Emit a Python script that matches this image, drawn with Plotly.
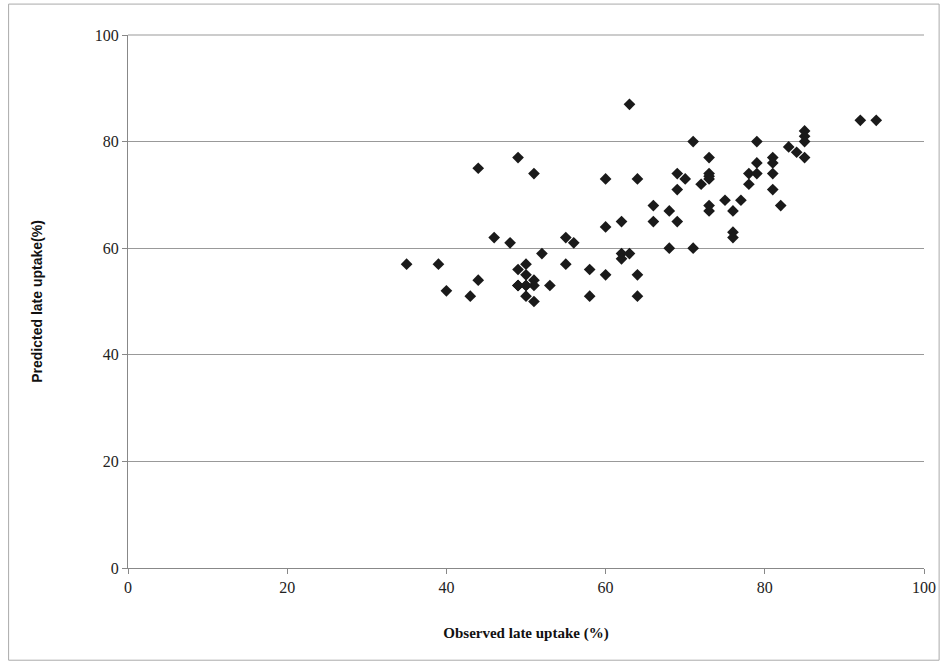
import plotly.graph_objects as go

observed = [35, 39, 40, 43, 44, 44, 46, 48, 49, 49, 49, 50, 50, 50, 50, 51, 51, 51, 51, 52,
            53, 55, 55, 56, 58, 58, 60, 60, 60, 62, 62, 62, 63, 63, 64, 64, 64, 66, 66, 68,
            69, 69, 69, 68, 70, 71, 71, 72, 73, 73, 73, 73, 73, 73, 75, 76, 76, 76, 77, 78,
            78, 79, 79, 79, 81, 81, 81, 81, 82, 83, 84, 85, 85, 85, 85, 92, 94, 49, 49, 50]
predicted = [57, 57, 52, 51, 54, 75, 62, 61, 77, 56, 53, 57, 55, 53, 51, 54, 53, 50, 74, 59,
             53, 62, 57, 61, 56, 51, 73, 64, 55, 65, 59, 58, 59, 87, 73, 55, 51, 68, 65, 67,
             74, 71, 65, 60, 73, 80, 60, 72, 77, 74, 73.5, 73, 68, 67, 69, 67, 63, 62, 69, 74,
             72, 80, 76, 74, 77, 76, 74, 71, 68, 79, 78, 82, 81, 80, 77, 84, 84, 53, 53, 53]

x_ticks = [0, 20, 40, 60, 80, 100]
y_ticks = [0, 20, 40, 60, 80, 100]

fig = go.Figure()
fig.add_trace(go.Scatter(
    x=observed, y=predicted, mode="markers",
    marker=dict(symbol="diamond", size=9, color="#1a1a1a", line=dict(width=0)),
    showlegend=False,
))

serif = "Liberation Serif, Times New Roman, serif"
fig.update_layout(
    width=948, height=663,
    margin=dict(l=128, r=19, t=35, b=95),
    paper_bgcolor="white", plot_bgcolor="white",
    font=dict(family=serif, size=15, color="#222"),
    xaxis=dict(
        range=[0, 100], tickvals=x_ticks, ticks="outside", ticklen=5, tickcolor="#888",
        showline=True, linecolor="#888", linewidth=1, showgrid=False, zeroline=False,
        tickfont=dict(family=serif, size=16, color="#222"),
        title=dict(text="<b>Observed late uptake (%)</b>", standoff=32,
                   font=dict(family=serif, size=15, color="#111")),
    ),
    yaxis=dict(
        range=[0, 100], tickvals=y_ticks, ticks="outside", ticklen=5, tickcolor="#888",
        showline=True, linecolor="#888", linewidth=1, showgrid=True, gridcolor="#999",
        gridwidth=1, zeroline=False,
        tickfont=dict(family=serif, size=16, color="#222"),
        title=dict(text="<b>Predicted late uptake(%)</b>", standoff=48,
                   font=dict(family="Liberation Sans, Arial, sans-serif", size=14, color="#111")),
    ),
    shapes=[
        dict(type="rect", xref="paper", yref="paper",
             x0=-0.150, x1=1.019, y0=-0.173, y1=1.058,
             line=dict(color="#aaa", width=1), fillcolor="rgba(0,0,0,0)", layer="below"),
        dict(type="line", xref="paper", yref="paper", x0=0, x1=1, y0=1, y1=1,
             line=dict(color="#999", width=1), layer="below"),
    ],
)

fig.write_html("out.html")
